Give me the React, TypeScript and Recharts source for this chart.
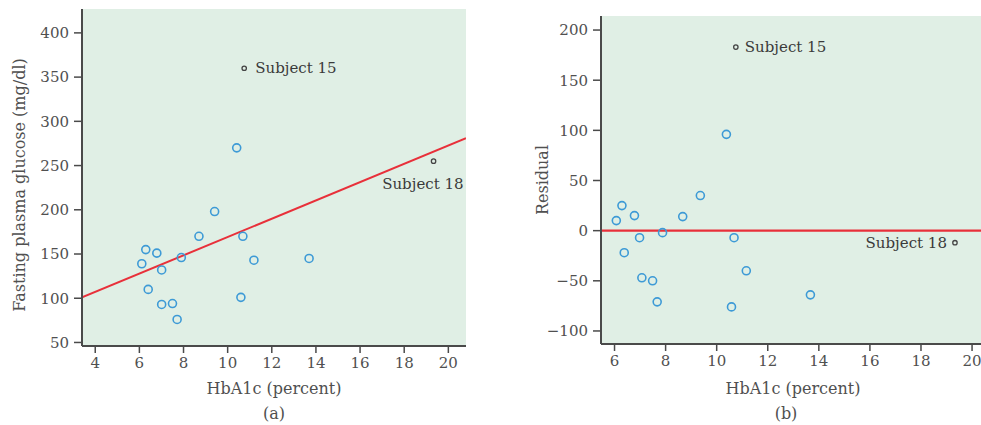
import React from 'react';
import {
  ScatterChart,
  Scatter,
  XAxis,
  YAxis,
  CartesianGrid,
  ReferenceLine,
} from 'recharts';

// (a) HbA1c vs fasting plasma glucose
const hba1c = [6.11, 6.29, 6.4, 6.79, 7.01, 7.01, 7.5, 7.71, 7.9, 8.7, 9.41, 10.41, 10.6, 10.69, 11.19, 13.69];
const glucose = [139, 155, 110, 151, 132, 93, 94, 76, 146, 170, 198, 270, 101, 170, 143, 145];

// (b) residuals from the fitted line
const residHba1c = [6.07, 6.29, 6.38, 6.78, 6.98, 7.07, 7.49, 7.67, 7.88, 8.67, 9.36, 10.38, 10.58, 10.68, 11.16, 13.67];
const residuals = [10, 25, -22, 15, -7, -47, -50, -71, -2, 14, 35, 96, -76, -7, -40, -64];

// outliers
const subject15 = { x: 10.75, glucose: 360, resid: 183 };
const subject18 = { x: 19.33, glucose: 255, resid: -12 };

// fitted regression line
const INTERCEPT = 65.8;
const SLOPE = 10.34;

const xTicksA = [4, 6, 8, 10, 12, 14, 16, 18, 20];
const yTicksA = [50, 100, 150, 200, 250, 300, 350, 400];
const xTicksB = [6, 8, 10, 12, 14, 16, 18, 20];
const yTicksB = [-100, -50, 0, 50, 100, 150, 200];

const FONT = 'DejaVu Serif, Liberation Serif, serif';
const BG = '#e0efe5';
const BLUE = '#3d9ad6';
const RED = '#e8303a';
const AXIS = '#4a4a4a';
const TEXT = '#505050';

const pointsA = hba1c.map((x, i) => ({ x, y: glucose[i] }));
const pointsB = residHba1c.map((x, i) => ({ x, y: residuals[i] }));

const tickStyle = { fill: TEXT, fontSize: 15, fontFamily: FONT };

const fmt = (v: number) => String(v).replace('-', '\u2212');

const ring = (props: any) => (
  <circle cx={props.cx} cy={props.cy} r={4} fill="none" stroke={BLUE} strokeWidth={1.6} />
);

const subjectShape = (label: string, dx: number, dy: number, anchor: 'start' | 'middle' | 'end') =>
  (props: any) => (
    <g>
      <circle cx={props.cx} cy={props.cy} r={2.2} fill="none" stroke="#444" strokeWidth={1.3} />
      <text
        x={props.cx + dx}
        y={props.cy + dy}
        textAnchor={anchor}
        dominantBaseline="central"
        fill="#3a3a3a"
        fontSize={15}
        fontFamily={FONT}
      >
        {label}
      </text>
    </g>
  );

const textStyle: React.CSSProperties = {
  position: 'absolute',
  fontFamily: FONT,
  fontSize: 16,
  color: TEXT,
  whiteSpace: 'nowrap',
  lineHeight: '20px',
};

export default function App() {
  return (
    <div style={{ position: 'absolute', left: 0, top: 0, width: 981, height: 425, background: '#fff', overflow: 'hidden' }}>
      <div style={{ position: 'absolute', left: 0, top: 0 }}>
        <ScatterChart width={490} height={425} margin={{ top: 9, right: 24, bottom: 0, left: 22 }}>
          <CartesianGrid fill={BG} stroke="none" horizontal={false} vertical={false} />
          <XAxis
            type="number"
            dataKey="x"
            domain={[3.4, 20.8]}
            ticks={xTicksA}
            allowDataOverflow
            height={79}
            tickSize={7}
            tickMargin={4}
            tick={tickStyle}
            axisLine={{ stroke: AXIS, strokeWidth: 2 }}
            tickLine={{ stroke: AXIS, strokeWidth: 1.5 }}
          />
          <YAxis
            type="number"
            dataKey="y"
            domain={[46, 427]}
            ticks={yTicksA}
            allowDataOverflow
            width={60}
            tickSize={8}
            tickMargin={5}
            tick={tickStyle}
            axisLine={{ stroke: AXIS, strokeWidth: 2 }}
            tickLine={{ stroke: AXIS, strokeWidth: 1.5 }}
          />
          <ReferenceLine
            segment={[
              { x: 3.4, y: INTERCEPT + SLOPE * 3.4 },
              { x: 20.8, y: INTERCEPT + SLOPE * 20.8 },
            ]}
            stroke={RED}
            strokeWidth={2}
            ifOverflow="hidden"
          />
          <Scatter data={pointsA} shape={ring} isAnimationActive={false} />
          <Scatter
            data={[{ x: subject15.x, y: subject15.glucose }]}
            shape={subjectShape('Subject 15', 11, 0, 'start')}
            isAnimationActive={false}
          />
          <Scatter
            data={[{ x: subject18.x, y: subject18.glucose }]}
            shape={subjectShape('Subject 18', 30, 23, 'end')}
            isAnimationActive={false}
          />
        </ScatterChart>
      </div>

      <div style={{ position: 'absolute', left: 490, top: 0 }}>
        <ScatterChart width={491} height={425} margin={{ top: 16, right: 0, bottom: 0, left: 51 }}>
          <CartesianGrid fill={BG} stroke="none" horizontal={false} vertical={false} />
          <XAxis
            type="number"
            dataKey="x"
            domain={[5.47, 20.35]}
            ticks={xTicksB}
            allowDataOverflow
            height={81}
            tickSize={7}
            tickMargin={4}
            tick={tickStyle}
            axisLine={{ stroke: AXIS, strokeWidth: 2 }}
            tickLine={{ stroke: AXIS, strokeWidth: 1.5 }}
          />
          <YAxis
            type="number"
            dataKey="y"
            domain={[-113, 214]}
            ticks={yTicksB}
            allowDataOverflow
            width={60}
            tickSize={8}
            tickMargin={5}
            tick={tickStyle}
            tickFormatter={fmt}
            axisLine={{ stroke: AXIS, strokeWidth: 2 }}
            tickLine={{ stroke: AXIS, strokeWidth: 1.5 }}
          />
          <ReferenceLine y={0} stroke={RED} strokeWidth={2.2} />
          <Scatter data={pointsB} shape={ring} isAnimationActive={false} />
          <Scatter
            data={[{ x: subject15.x, y: subject15.resid }]}
            shape={subjectShape('Subject 15', 9, 0, 'start')}
            isAnimationActive={false}
          />
          <Scatter
            data={[{ x: subject18.x, y: subject18.resid }]}
            shape={subjectShape('Subject 18', -8, 0, 'end')}
            isAnimationActive={false}
          />
        </ScatterChart>
      </div>

      {/* axis titles and panel captions */}
      <div style={{ ...textStyle, left: 274, top: 379, transform: 'translateX(-50%)' }}>HbA1c (percent)</div>
      <div style={{ ...textStyle, left: 274, top: 404, transform: 'translateX(-50%)' }}>(a)</div>
      <div style={{ ...textStyle, left: 793, top: 379, transform: 'translateX(-50%)' }}>HbA1c (percent)</div>
      <div style={{ ...textStyle, left: 786, top: 404, transform: 'translateX(-50%)' }}>(b)</div>
      <div
        style={{
          ...textStyle,
          left: 20,
          top: 185,
          transform: 'translate(-50%, -50%) rotate(-90deg)',
        }}
      >
        Fasting plasma glucose (mg/dl)
      </div>
      <div
        style={{
          ...textStyle,
          left: 543,
          top: 180,
          transform: 'translate(-50%, -50%) rotate(-90deg)',
        }}
      >
        Residual
      </div>
    </div>
  );
}
